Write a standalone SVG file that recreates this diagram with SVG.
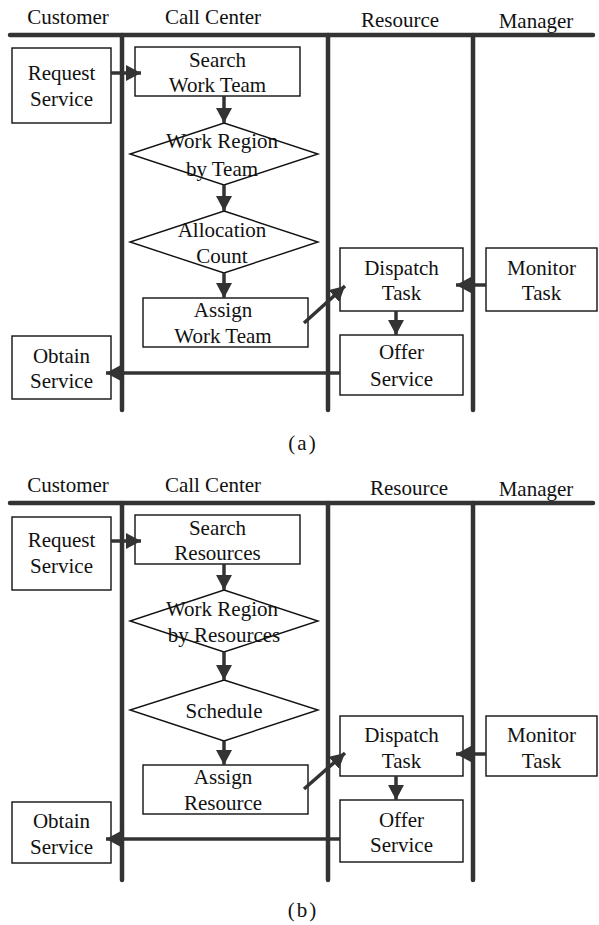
<svg xmlns="http://www.w3.org/2000/svg" width="599" height="925" viewBox="0 0 599 925">
<style>
  text{font-family:"Liberation Serif","Times New Roman",serif;font-size:21px;fill:#111;text-anchor:middle}
  .box{fill:#fff;stroke:#111;stroke-width:1.4}
  .dia{fill:#fff;stroke:#111;stroke-width:1.4}
  .lane{stroke:#333;stroke-width:4.5;stroke-linecap:round;fill:none}
  .arr{stroke:#333;stroke-width:3.5;fill:none;marker-end:url(#ah)}
  .cap{font-size:21px;letter-spacing:2px}
</style>
<defs>
  <marker id="ah" markerUnits="userSpaceOnUse" markerWidth="16" markerHeight="16" refX="15" refY="8" orient="auto">
    <path d="M0,0 L15,8 L0,16 z" fill="#333"/>
  </marker>
</defs>

<!-- Panel (a) -->
<g id="lanes-a">
  <path class="lane" d="M10,35 L593,35"/>
  <path class="lane" d="M122,35 L122,410"/>
  <path class="lane" d="M328,35 L328,410"/>
  <path class="lane" d="M473,35 L473,410"/>
  <text x="68" y="24">Customer</text>
  <text x="213" y="24">Call Center</text>
  <text x="400" y="27">Resource</text>
  <text x="536" y="28">Manager</text>
</g>
<g id="a-request">
  <rect class="box" x="12" y="48" width="99" height="75"/>
  <text x="61.5" y="80">Request</text>
  <text x="61.5" y="106">Service</text>
</g>
<g id="a-search">
  <rect class="box" x="135" y="47" width="165" height="49"/>
  <text x="217.5" y="67">Search</text>
  <text x="217.5" y="92">Work Team</text>
</g>
<g id="a-region">
  <polygon class="dia" points="224,123 318,154 224,185 130,154"/>
  <text x="222" y="148">Work Region</text>
  <text x="222" y="176">by Team</text>
</g>
<g id="a-alloc">
  <polygon class="dia" points="224,211 318,242 224,273 130,242"/>
  <text x="222" y="237">Allocation</text>
  <text x="222" y="263">Count</text>
</g>
<g id="a-assign">
  <rect class="box" x="143" y="298" width="165" height="49"/>
  <text x="223" y="317">Assign</text>
  <text x="223" y="343">Work Team</text>
</g>
<g id="a-dispatch">
  <rect class="box" x="340" y="248" width="123" height="63"/>
  <text x="401.5" y="275">Dispatch</text>
  <text x="401.5" y="300">Task</text>
</g>
<g id="a-monitor">
  <rect class="box" x="486" y="248" width="111" height="63"/>
  <text x="541.5" y="275">Monitor</text>
  <text x="541.5" y="300">Task</text>
</g>
<g id="a-offer">
  <rect class="box" x="340" y="335" width="123" height="60"/>
  <text x="401.5" y="359">Offer</text>
  <text x="401.5" y="386">Service</text>
</g>
<g id="a-obtain">
  <rect class="box" x="12" y="336" width="99" height="63"/>
  <text x="61.5" y="363">Obtain</text>
  <text x="61.5" y="388">Service</text>
</g>
<g id="connectors-a">
  <path class="arr" d="M111,73 L141,73"/>
  <path class="arr" d="M224,96 L224,123"/>
  <path class="arr" d="M224,185 L224,211"/>
  <path class="arr" d="M224,273 L224,298"/>
  <path class="arr" d="M304,323 L345,286"/>
  <path class="arr" d="M486,285 L456,285"/>
  <path class="arr" d="M396,311 L396,335"/>
  <path class="arr" d="M340,373 L106,373"/>
</g>
<text class="cap" x="303" y="450">(a)</text>

<!-- Panel (b) -->
<g id="lanes-b">
  <path class="lane" d="M10,503 L593,503"/>
  <path class="lane" d="M122,503 L122,880"/>
  <path class="lane" d="M328,503 L328,880"/>
  <path class="lane" d="M473,503 L473,880"/>
  <text x="68" y="492">Customer</text>
  <text x="213" y="492">Call Center</text>
  <text x="409" y="495">Resource</text>
  <text x="536" y="496">Manager</text>
</g>
<g id="b-request">
  <rect class="box" x="12" y="517" width="99" height="73"/>
  <text x="61.5" y="547">Request</text>
  <text x="61.5" y="573">Service</text>
</g>
<g id="b-search">
  <rect class="box" x="135" y="515" width="165" height="49"/>
  <text x="217.5" y="535">Search</text>
  <text x="217.5" y="560">Resources</text>
</g>
<g id="b-region">
  <polygon class="dia" points="224,590 318,621 224,652 130,621"/>
  <text x="222" y="616">Work Region</text>
  <text x="224" y="642">by Resources</text>
</g>
<g id="b-schedule">
  <polygon class="dia" points="224,680 318,710 224,741 130,710"/>
  <text x="224" y="718">Schedule</text>
</g>
<g id="b-assign">
  <rect class="box" x="143" y="765" width="165" height="49"/>
  <text x="223" y="784">Assign</text>
  <text x="223" y="810">Resource</text>
</g>
<g id="b-dispatch">
  <rect class="box" x="340" y="716" width="123" height="60"/>
  <text x="401.5" y="742">Dispatch</text>
  <text x="401.5" y="768">Task</text>
</g>
<g id="b-monitor">
  <rect class="box" x="486" y="716" width="111" height="60"/>
  <text x="541.5" y="742">Monitor</text>
  <text x="541.5" y="768">Task</text>
</g>
<g id="b-offer">
  <rect class="box" x="340" y="800" width="123" height="62"/>
  <text x="401.5" y="827">Offer</text>
  <text x="401.5" y="852">Service</text>
</g>
<g id="b-obtain">
  <rect class="box" x="12" y="802" width="99" height="61"/>
  <text x="61.5" y="828">Obtain</text>
  <text x="61.5" y="854">Service</text>
</g>
<g id="connectors-b">
  <path class="arr" d="M111,541 L141,541"/>
  <path class="arr" d="M224,564 L224,590"/>
  <path class="arr" d="M224,652 L224,680"/>
  <path class="arr" d="M224,741 L224,765"/>
  <path class="arr" d="M304,789 L345,753"/>
  <path class="arr" d="M486,754 L456,754"/>
  <path class="arr" d="M396,776 L396,800"/>
  <path class="arr" d="M340,839 L106,839"/>
</g>
<text class="cap" x="303" y="917">(b)</text>
</svg>
